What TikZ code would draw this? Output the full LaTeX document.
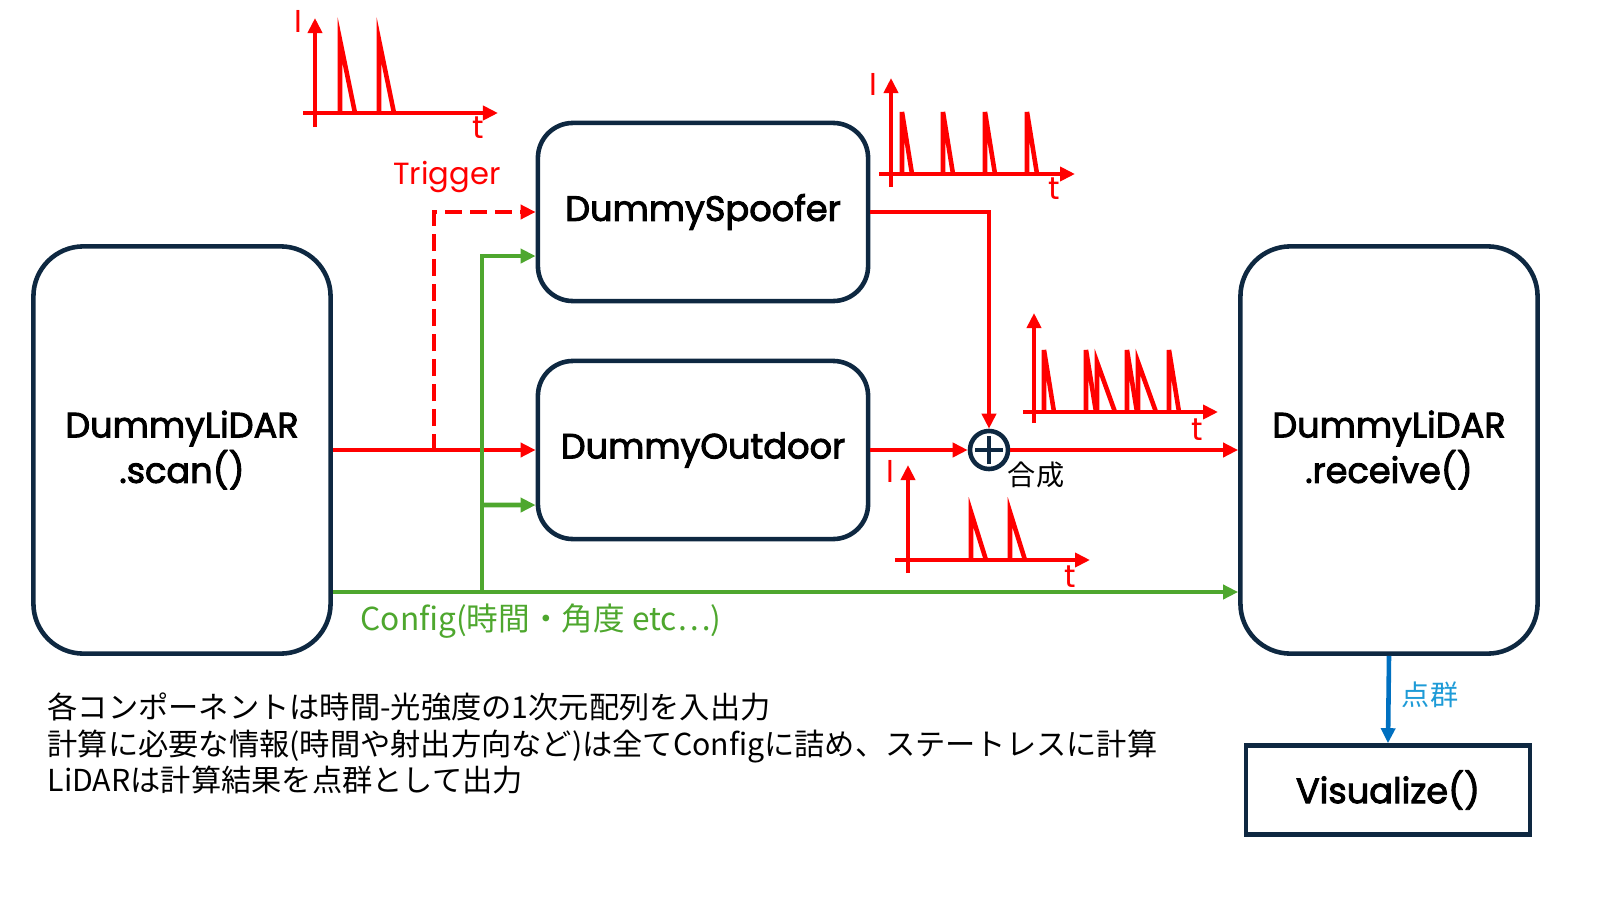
\documentclass[tikz,border=0pt]{standalone}
\usepackage{fontspec}
\setmainfont{Poppins}
\newfontfamily\boxfont[FakeBold=2.6]{Poppins}
\newfontfamily\cjk{Noto Sans CJK JP}
\usetikzlibrary{arrows.meta}
\definecolor{navy}{HTML}{0E2841}
\definecolor{sigred}{HTML}{FF0000}
\definecolor{cfggreen}{HTML}{4EA72E}
\definecolor{ptblue}{HTML}{0070C0}
\definecolor{lblblue}{HTML}{1E9BD7}
\tikzset{
  block/.style={draw=navy, line width=1.3pt, rounded corners=0.35cm, minimum width=3.3cm,
    minimum height=1.78cm, align=center, font=\boxfont\fontsize{10}{10.8}\selectfont},
  bigblock/.style={block, rounded corners=0.5cm, minimum width=2.97cm, minimum height=4.07cm},
  tip/.style={-{Triangle[length=0.15cm,width=0.14cm]}},
  sig/.style={draw=sigred, line width=1.3pt, tip},
  cfg/.style={draw=cfggreen, line width=1.3pt, tip},
  trig/.style={sig, dashed, dash pattern=on 0.17cm off 0.08cm},
  axis/.style={draw=sigred, line width=1.3pt, tip},
  peak/.style={draw=sigred, line width=1.3pt},
  axlabel/.style={text=sigred, inner sep=0pt, font=\fontsize{9}{10}\selectfont},
  note/.style={anchor=base west, inner sep=0pt, font=\cjk\fontsize{8.6}{10}\selectfont}
}
\begin{document}
\begin{tikzpicture}[x=0.01cm, y=-0.01cm]
\useasboundingbox (0,0) rectangle (1600,900);
% blocks
\node[bigblock] (scan) at (182,450) {DummyLiDAR\\.scan()};
\node[block] (spoofer) at (703,212) {DummySpoofer};
\node[block] (outdoor) at (703,450) {DummyOutdoor};
\node[bigblock] (rcv) at (1389,450) {DummyLiDAR\\.receive()};
\node[block, rounded corners=0pt, minimum width=2.84cm, minimum height=0.89cm] (vis) at (1388,790) {Visualize()};
\node[draw=navy, line width=1.3pt, circle, minimum size=0.38cm, inner sep=0pt] (sum) at (989,450) {};
\draw[navy, line width=1.4pt] ([xshift=-0.14cm]sum.center) -- ([xshift=0.14cm]sum.center);
\draw[navy, line width=1.4pt] ([yshift=-0.14cm]sum.center) -- ([yshift=0.14cm]sum.center);
\coordinate (trigcorner) at (434,212);
\coordinate (cfgsplit) at (482,592);
% signals
\draw[sig] (scan.east) -- (outdoor.west);
\draw[trig] (scan.east) -| (trigcorner) -- (spoofer.west);
\draw[sig] (spoofer.east) -| (sum.north);
\draw[sig] (outdoor.east) -- (sum.west);
\draw[sig] (sum.east) -- (rcv.west);
\draw[cfg] (scan.east |- cfgsplit) -- (rcv.west |- cfgsplit);
\draw[cfg] (cfgsplit) |- ([yshift=-0.44cm]spoofer.west);
\draw[cfg] (cfgsplit |- outdoor.west) ++(0,55) -- ([yshift=-0.55cm]outdoor.west);
\draw[draw=ptblue, line width=1.3pt, tip] (rcv.south) -- (vis.north);
% labels
\node[text=sigred, font=\fontsize{8.7}{10}\selectfont] (trigger) at (447,177) {Trigger};
\node[text=cfggreen, anchor=west, inner sep=0pt, font=\cjk\fontsize{9}{10}\selectfont] (config) at (360,621) {Config(時間・角度 etc…)};
\node[font=\cjk\fontsize{8}{10}\selectfont] (merge) at (1036,475) {合成};
\node[text=lblblue, font=\cjk\fontsize{8}{10}\selectfont] (points) at (1430,695) {点群};
% pulse plots
\draw[axis] (315,127) -- (315,18);
\draw[axis] (303,113) -- (498,113);
\draw[peak] (340,113) -- (340,40) -- (355,113) (379,113) -- (379,40) -- (394,113);
\node[axlabel] (i1) at (298,21) {I};
\node[axlabel] (t1) at (478,128) {t};
\draw[axis] (891,187) -- (891,78);
\draw[axis] (879,174) -- (1075,174);
\draw[peak] (902,174) -- (902,112) -- (912,174) (943,174) -- (943,112) -- (953,174)
  (985,174) -- (985,112) -- (995,174) (1027,174) -- (1027,112) -- (1037,174);
\node[axlabel] (i2) at (873,84) {I};
\node[axlabel] (t2) at (1054,189) {t};
\draw[axis] (1034,423) -- (1034,313);
\draw[axis] (1023,412) -- (1218,412);
\draw[peak] (1044,412) -- (1044,350) -- (1054,412) (1086,412) -- (1086,350) -- (1096,412)
  (1127,412) -- (1127,350) -- (1137,412) (1169,412) -- (1169,350) -- (1179,412);
\draw[peak] (1097,412) -- (1097,362) -- (1115,412) (1138,412) -- (1138,362) -- (1156,412);
\node[axlabel] (t3) at (1197,430) {t};
\draw[axis] (908,573) -- (908,465);
\draw[axis] (895,560) -- (1090,560);
\draw[peak] (971,560) -- (971,512) -- (986,560) (1010,560) -- (1010,512) -- (1025,560);
\node[axlabel] (i4) at (890,471) {I};
\node[axlabel] (t4) at (1070,577) {t};
% notes
\node[note] (note1) at (47,718) {各コンポーネントは時間-光強度の1次元配列を入出力};
\node[note] (note2) at (47,755) {計算に必要な情報(時間や射出方向など)は全てConfigに詰め、ステートレスに計算};
\node[note] (note3) at (47,791) {LiDARは計算結果を点群として出力};
\end{tikzpicture}
\end{document}
